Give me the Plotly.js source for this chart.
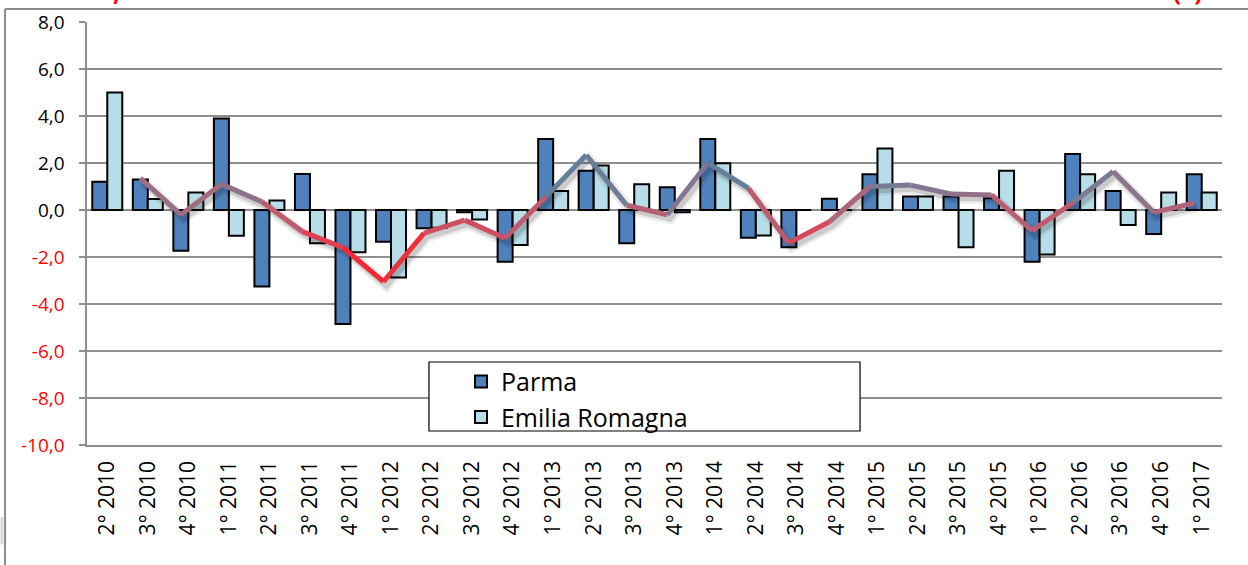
<!DOCTYPE html>
<html>
<head>
<meta charset="utf-8">
<script src="https://cdn.plot.ly/plotly-3.0.1.min.js"></script>
<style>
  body { margin: 0; background: #fff; }
  #chart { width: 1248px; height: 565px; }
</style>
</head>
<body>
<div id="chart"></div>
<script>
// quarters, 2° 2010 .. 1° 2017
var quarters = ['2° 2010', '3° 2010', '4° 2010',
    '1° 2011', '2° 2011', '3° 2011', '4° 2011',
    '1° 2012', '2° 2012', '3° 2012', '4° 2012',
    '1° 2013', '2° 2013', '3° 2013', '4° 2013',
    '1° 2014', '2° 2014', '3° 2014', '4° 2014',
    '1° 2015', '2° 2015', '3° 2015', '4° 2015',
    '1° 2016', '2° 2016', '3° 2016', '4° 2016',
    '1° 2017'];

var parma = [1.2, 1.3, -1.73, 3.89, -3.26, 1.53, -4.85,
    -1.35, -0.78, -0.1, -2.2, 3.02, 1.67, -1.42, 0.97,
    3.02, -1.18, -1.59, 0.48, 1.52, 0.57, 0.57, 0.5,
    -2.2, 2.38, 0.81, -1.02, 1.52];

var emilia = [5.0, 0.47, 0.74, -1.1, 0.4, -1.42, -1.8,
    -2.87, -0.75, -0.4, -1.49, 0.81, 1.89, 1.1, -0.1,
    1.99, -1.09, 0.0, 0.0, 2.62, 0.57, -1.59, 1.67,
    -1.89, 1.52, -0.64, 0.74, 0.74];

// trend line (no value for the first quarter)
var trend = [null, 1.36, -0.2, 1.1, 0.35, -0.92, -1.6,
    -3.05, -0.98, -0.43, -1.2, 0.55, 2.34, 0.2, -0.2,
    2.0, 0.93, -1.4, -0.5, 1.0, 1.06, 0.68, 0.64,
    -0.88, 0.3, 1.64, -0.1, 0.3];

var yTicks = [8, 6, 4, 2, 0, -2, -4, -6, -8, -10];

// colour of the trend line against its value
var trendStops = [
    [-3.0, [255, 26, 30]],
    [-1.4, [228, 60, 78]],
    [-0.4, [196, 88, 108]],
    [0.5, [160, 108, 128]],
    [1.0, [122, 122, 150]],
    [1.7, [88, 128, 152]],
    [2.3, [58, 140, 156]]
];

function trendColor(v) {
    if (v <= trendStops[0][0]) return 'rgb(' + trendStops[0][1].join(',') + ')';
    for (var k = 1; k < trendStops.length; k++) {
        if (v <= trendStops[k][0]) {
            var a = trendStops[k - 1], b = trendStops[k];
            var t = (v - a[0]) / (b[0] - a[0]);
            var c = a[1].map(function (ch, j) { return Math.round(ch + (b[1][j] - ch) * t); });
            return 'rgb(' + c.join(',') + ')';
        }
    }
    return 'rgb(' + trendStops[trendStops.length - 1][1].join(',') + ')';
}

var fontFamily = 'Open Sans, Noto Sans, sans-serif';
var gridColor = '#8f8f8f';

var data = [
    {
        x: quarters, y: parma, type: 'bar', name: 'Parma',
        marker: { color: '#4f81bd', line: { color: '#000', width: 2 } }
    },
    {
        x: quarters, y: emilia, type: 'bar', name: 'Emilia Romagna',
        marker: { color: '#b7dde8', line: { color: '#000', width: 2 } }
    },
    // soft shadow under the trend line
    {
        x: quarters, y: trend, type: 'scatter', mode: 'lines',
        xaxis: 'x2', yaxis: 'y2', showlegend: false, hoverinfo: 'skip',
        line: { color: 'rgba(0,0,0,0.07)', width: 11 }
    },
    {
        x: quarters, y: trend, type: 'scatter', mode: 'lines',
        xaxis: 'x2', yaxis: 'y2', showlegend: false, hoverinfo: 'skip',
        line: { color: 'rgba(0,0,0,0.14)', width: 6 }
    }
];

// trend line, one piece per quarter so that the colour follows the value
for (var i = 1; i < quarters.length - 1; i++) {
    if (trend[i] === null || trend[i + 1] === null) continue;
    data.push({
        x: [quarters[i], quarters[i + 1]],
        y: [trend[i], trend[i + 1]],
        type: 'scatter', mode: 'lines',
        xaxis: 'x3', yaxis: 'y',
        showlegend: false, hoverinfo: 'skip',
        line: { color: trendColor((trend[i] + trend[i + 1]) / 2), width: 5 }
    });
}

var tickText = yTicks.map(function (v) {
    var s = v.toFixed(1).replace('.', ',');
    return v < 0 ? '<span style="fill:#ff0000">' + s + '</span>' : s;
});

var layout = {
    width: 1248,
    height: 565,
    margin: { l: 87, r: 26, t: 22, b: 120 },
    paper_bgcolor: '#fff',
    plot_bgcolor: '#fff',
    font: { family: fontFamily, size: 19, color: '#000' },
    barmode: 'group',
    bargap: 0.26,
    bargroupgap: 0,
    showlegend: true,
    legend: {
        x: 0.3295, y: 0.204, xanchor: 'left', yanchor: 'top',
        bgcolor: 'rgba(0,0,0,0)', borderwidth: 0,
        font: { family: fontFamily, size: 25, color: '#000' },
        tracegroupgap: 0
    },
    xaxis: {
        type: 'category', categoryarray: quarters,
        tickangle: -90, tickfont: { size: 21 },
        showgrid: false, zeroline: false,
        showline: true, linecolor: gridColor, linewidth: 1.5,
        ticks: 'outside', ticklen: 6, tickcolor: 'rgba(0,0,0,0)'
    },
    // tick marks on the zero line between quarters
    xaxis4: {
        overlaying: 'x', anchor: 'free', position: 10 / 18,
        type: 'linear', range: [-0.5, quarters.length - 0.5],
        tick0: -0.5, dtick: 1, ticks: 'outside', ticklen: 5,
        tickcolor: gridColor, tickwidth: 1.5,
        showticklabels: false, showgrid: false, zeroline: false, showline: false
    },
    // shadow axes
    xaxis2: {
        overlaying: 'x', anchor: 'y2', type: 'category', categoryarray: quarters,
        range: [-0.389, quarters.length - 0.389], visible: false
    },
    yaxis2: {
        overlaying: 'y', anchor: 'x2', range: [-9.83, 8.17], visible: false
    },
    // trend line axis, drawn slightly to the left of the bar groups
    xaxis3: {
        overlaying: 'x', anchor: 'y', type: 'category', categoryarray: quarters,
        range: [-0.315, quarters.length - 0.315], visible: false
    },
    yaxis: {
        range: [-10, 8],
        tickvals: yTicks, ticktext: tickText,
        tickfont: { size: 19 },
        ticks: 'outside', ticklen: 6, tickcolor: gridColor, tickwidth: 1.5,
        ticklabelstandoff: 11,
        showgrid: true, gridcolor: gridColor, gridwidth: 1.6,
        zeroline: true, zerolinecolor: gridColor, zerolinewidth: 1.6,
        showline: true, linecolor: gridColor, linewidth: 1.6
    },
    shapes: [
        // outer chart frame
        { type: 'line', xref: 'paper', yref: 'paper', x0: -0.0722, x1: 1.03, y0: 1.0307, y1: 1.0307,
          line: { color: '#8c8c8c', width: 2 } },
        { type: 'line', xref: 'paper', yref: 'paper', x0: -0.0722, x1: -0.0722, y0: 1.0307, y1: -0.29,
          line: { color: '#8c8c8c', width: 2 } },
        { type: 'line', xref: 'paper', yref: 'paper', x0: -0.0749, x1: -0.0749, y0: -0.17, y1: -0.235,
          line: { color: '#d8d8d8', width: 3 } },
        // legend box
        { type: 'rect', xref: 'paper', yref: 'paper', x0: 0.3013, x1: 0.6811, y0: 0.1962, y1: 0.0331,
          fillcolor: '#fff', line: { color: '#000', width: 1.2 }, layer: 'above' }
    ],
    annotations: [
        // lower edge of the red title, cut by the top of the picture
        { xref: 'paper', yref: 'paper', x: 0.0256, xanchor: 'center', y: 1, yanchor: 'bottom', yshift: 12,
          text: '<b>,</b>', showarrow: false, font: { size: 24, color: '#ff0000' } },
        { xref: 'paper', yref: 'paper', x: 0.970, xanchor: 'center', y: 1, yanchor: 'bottom', yshift: 12,
          text: '<b>(*)</b>', showarrow: false, font: { size: 24, color: '#ff0000' } }
    ]
};

Plotly.newPlot('chart', data, layout, { displayModeBar: false, staticPlot: true });
</script>
</body>
</html>
